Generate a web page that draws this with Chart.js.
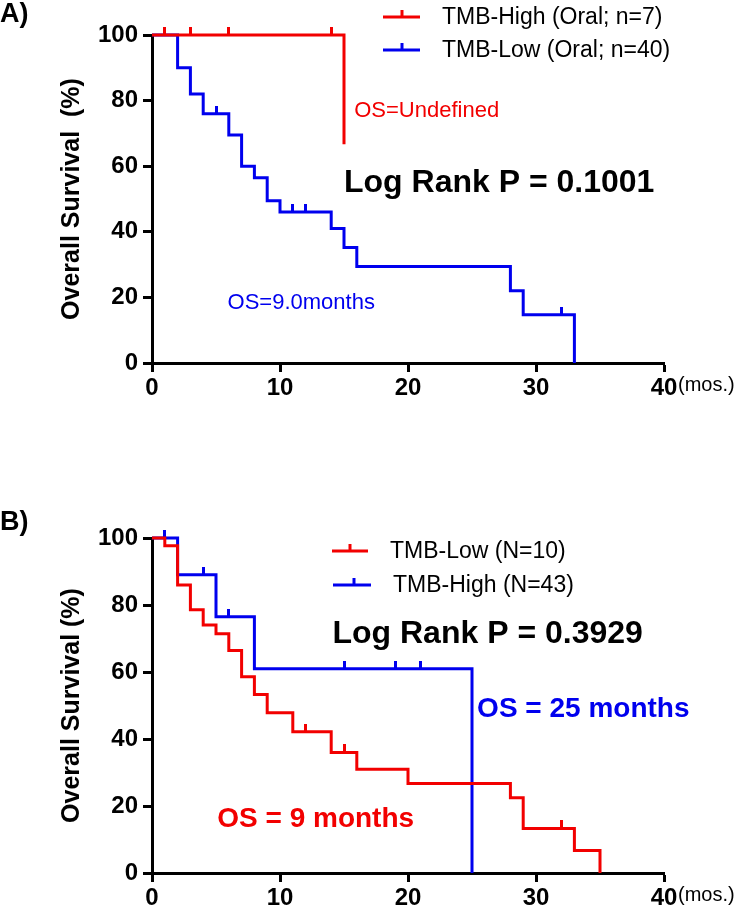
<!DOCTYPE html>
<html><head><meta charset="utf-8">
<script src="https://cdn.jsdelivr.net/npm/chart.js@4.4.0/dist/chart.umd.min.js"></script>
<style>
html,body{margin:0;padding:0;background:#fff;}
#wrap{position:relative;width:739px;height:914px;overflow:hidden;}
canvas{position:absolute;left:0;}
</style></head><body>
<div id="wrap">
<canvas id="cA" width="739" height="457" style="top:0px"></canvas>
<canvas id="cB" width="739" height="457" style="top:457px"></canvas>
</div>
<script>
// ---------- Panel A data ----------
const aHighLabel = 'TMB-High (Oral; n=7)';
const aHighTimes = [0, 15];
const aHighSurv = [100, 66.7];
const aHighCensorTimes = [1, 3, 6, 14];
const aHighCensorSurv = [100, 100, 100, 100];
const aLowLabel = 'TMB-Low (Oral; n=40)';
const aLowTimes = [0, 2, 3, 4, 6, 7, 8, 9, 10, 14, 15, 16, 28, 29, 33];
const aLowSurv = [100, 90, 82, 76, 69.5, 60, 56.5, 49.5, 46, 41, 35.2, 29.4, 22, 14.7, 0];
const aLowCensorTimes = [5, 11, 12, 32];
const aLowCensorSurv = [76, 46, 46, 14.7];
// ---------- Panel B data ----------
const bLowLabel = 'TMB-Low (N=10)';
const bLowTimes = [0, 1, 2, 3, 4, 5, 6, 7, 8, 9, 11, 14, 16, 20, 28, 29, 33, 35];
const bLowSurv = [100, 97.7, 86, 78.6, 74, 71.4, 66.4, 58.6, 53.3, 47.8, 42.2, 36, 31, 26.7, 22.5, 13.3, 6.7, 0];
const bLowCensorTimes = [12, 15, 32];
const bLowCensorSurv = [42.2, 36, 13.3];
const bHighLabel = 'TMB-High (N=43)';
const bHighTimes = [0, 2, 5, 8, 25];
const bHighSurv = [100, 89, 76.5, 61, 0];
const bHighCensorTimes = [1, 4, 6, 15, 19, 21];
const bHighCensorSurv = [100, 89, 76.5, 61, 61, 61];
// ---------- ticks ----------
const xTicks = [0, 10, 20, 30, 40];
const yTicks = [0, 20, 40, 60, 80, 100];

const RED = '#f20000';
const BLUE = '#0000ee';
const FF = "'Liberation Sans', Arial, Helvetica, sans-serif";

function pts(t, s) { return t.map((v, i) => ({x: v, y: s[i]})); }
function tickImg(color) {
  const c = document.createElement('canvas');
  c.width = 3; c.height = 16;
  const g = c.getContext('2d');
  g.fillStyle = color; g.fillRect(0, 0, 3, 8);
  return c;
}
function curve(label, t, s, color) {
  return {label, data: pts(t, s), showLine: true, stepped: true, borderColor: color,
    borderWidth: 3, pointRadius: 0, fill: false, clip: false, borderCapStyle: 'butt', borderJoinStyle: 'miter'};
}
function censor(t, s, color) {
  return {label: '', data: pts(t, s), showLine: false, pointStyle: tickImg(color), pointRadius: 3, clip: false};
}

const deco = {
  id: 'deco',
  afterDraw(chart, args, o) {
    const ctx = chart.ctx, xs = chart.scales.x, ys = chart.scales.y;
    ctx.save();
    ctx.textAlign = 'left'; ctx.textBaseline = 'alphabetic';
    // panel label
    ctx.fillStyle = '#000';
    ctx.font = 'bold 27px ' + FF;
    ctx.fillText(o.panel, 0, o.panelY);
    // annotations in data coordinates
    o.notes.forEach(n => {
      ctx.fillStyle = n.color;
      ctx.font = n.font;
      ctx.fillText(n.text, xs.getPixelForValue(n.x), ys.getPixelForValue(n.y));
    });
    // unit after last x tick
    ctx.fillStyle = '#000';
    ctx.font = '20px ' + FF;
    ctx.fillText('(mos.)', xs.getPixelForValue(40) + 14, ys.getPixelForValue(0) + 28);
    // legend
    o.legend.forEach(l => {
      ctx.strokeStyle = l.color; ctx.lineWidth = 3; ctx.lineCap = 'butt';
      ctx.beginPath(); ctx.moveTo(l.x1, l.y); ctx.lineTo(l.x2, l.y); ctx.stroke();
      const m = l.tick;
      ctx.beginPath(); ctx.moveTo(m, l.y); ctx.lineTo(m, l.y - 7); ctx.stroke();
      ctx.fillStyle = '#000';
      ctx.font = '23px ' + FF;
      ctx.textBaseline = 'middle';
      ctx.fillText(l.text, l.tx, l.y + 1);
      ctx.textBaseline = 'alphabetic';
    });
    ctx.restore();
  }
};

function makeChart(id, datasets, cfg) {
  const axisCommon = {
    grid: {display: true, drawOnChartArea: false, drawTicks: true, tickLength: 9, tickWidth: 3, tickColor: '#000'},
    border: {display: true, color: '#000', width: 3},
  };
  return new Chart(document.getElementById(id), {
    type: 'scatter',
    data: {datasets},
    options: {
      responsive: false, animation: false, devicePixelRatio: 1,
      layout: {padding: {left: 57, right: 75, top: cfg.top, bottom: cfg.bottom}},
      plugins: {legend: {display: false}, tooltip: {enabled: false}, deco: cfg.deco},
      scales: {
        x: Object.assign({}, axisCommon, {
          type: 'linear', min: 0, max: 40,
          afterFit: s => { s.height = 40; },
          afterBuildTicks: s => { s.ticks = xTicks.map(v => ({value: v})); },
          ticks: {color: '#000', font: {family: FF, size: 24, weight: 'bold'}, padding: 2, maxRotation: 0, autoSkip: false}
        }),
        y: Object.assign({}, axisCommon, {
          type: 'linear', min: 0, max: 100,
          afterFit: s => { s.width = 95; },
          afterBuildTicks: s => { s.ticks = yTicks.map(v => ({value: v})); },
          ticks: {color: '#000', font: {family: FF, size: 24, weight: 'bold'}, padding: 5, autoSkip: false},
          title: {display: true, text: cfg.yTitle, color: '#000', font: {family: FF, size: 25, weight: 'bold'}, padding: 0}
        })
      }
    },
    plugins: [deco]
  });
}

makeChart('cA', [
  curve(aHighLabel, aHighTimes, aHighSurv, RED),
  censor(aHighCensorTimes, aHighCensorSurv, RED),
  curve(aLowLabel, aLowTimes, aLowSurv, BLUE),
  censor(aLowCensorTimes, aLowCensorSurv, BLUE)
], {
  top: 35, bottom: 54, yTitle: 'Overall Survival  (%)',
  deco: {
    panel: 'A)', panelY: 22,
    notes: [
      {text: 'OS=Undefined', x: 15.8, y: 75, color: RED, font: '22px ' + FF},
      {text: 'Log Rank P = 0.1001', x: 15.0, y: 52, color: '#000', font: 'bold 32px ' + FF},
      {text: 'OS=9.0months', x: 5.9, y: 16.4, color: BLUE, font: '22px ' + FF}
    ],
    legend: [
      {text: aHighLabel, color: RED, x1: 383, x2: 420, tick: 402, y: 17, tx: 442},
      {text: aLowLabel, color: BLUE, x1: 383, x2: 420, tick: 402, y: 50, tx: 442}
    ]
  }
});

makeChart('cB', [
  curve(bLowLabel, bLowTimes, bLowSurv, RED),
  censor(bLowCensorTimes, bLowCensorSurv, RED),
  curve(bHighLabel, bHighTimes, bHighSurv, BLUE),
  censor(bHighCensorTimes, bHighCensorSurv, BLUE)
], {
  top: 81, bottom: 1, yTitle: 'Overall Survival (%)',
  deco: {
    panel: 'B)', panelY: 73,
    notes: [
      {text: 'Log Rank P = 0.3929', x: 14.1, y: 68.7, color: '#000', font: 'bold 32px ' + FF},
      {text: 'OS = 25 months', x: 25.4, y: 46.6, color: BLUE, font: 'bold 28px ' + FF},
      {text: 'OS = 9 months', x: 5.1, y: 13.7, color: RED, font: 'bold 28px ' + FF}
    ],
    legend: [
      {text: bLowLabel, color: RED, x1: 332, x2: 368, tick: 350, y: 94, tx: 390},
      {text: bHighLabel, color: BLUE, x1: 333, x2: 371, tick: 354, y: 128, tx: 393}
    ]
  }
});
</script>
</body></html>
